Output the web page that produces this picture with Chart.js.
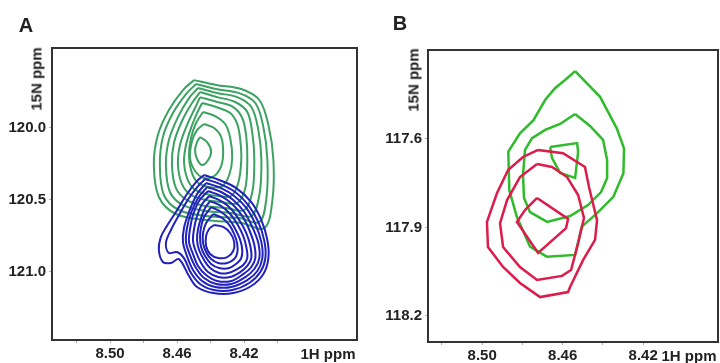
<!DOCTYPE html>
<html>
<head>
<meta charset="utf-8">
<script src="https://cdn.jsdelivr.net/npm/chart.js@4.4.0/dist/chart.umd.min.js"></script>
<style>
  body { margin: 0; background: #fff; }
  #wrap { position: relative; width: 720px; height: 363px; overflow: hidden;
          font-family: "Liberation Sans", Arial, sans-serif; font-weight: bold; color: #222; }
  .panel { position: absolute; top: 0; width: 360px; height: 363px; }
  .lbl { position: absolute; white-space: nowrap; transform: translate(-50%, -50%); line-height: 1; }
  .letter { font-size: 20px; }
  .unit { font-size: 15px; }
  .rot { transform: translate(-50%, -50%) rotate(-90deg); }
</style>
</head>
<body>
<div id="wrap">
  <div class="panel" style="left:0"><canvas id="chartA" width="360" height="363"></canvas></div>
  <div class="panel" style="left:360px"><canvas id="chartB" width="360" height="363"></canvas></div>
  <div class="lbl letter" style="left:26px;top:25px">A</div>
  <div class="lbl letter" style="left:400px;top:23px">B</div>
  <div class="lbl unit rot" style="left:36px;top:79px">15N ppm</div>
  <div class="lbl unit rot" style="left:413px;top:80px">15N ppm</div>
  <div class="lbl unit" style="left:328px;top:353px">1H ppm</div>
  <div class="lbl unit" style="left:689px;top:355px">1H ppm</div>
</div>
<script>
// tick positions (ppm)
const xMajorA = [8.50, 8.46, 8.42];
const xMinorA = [8.52, 8.48, 8.44, 8.40];
const yMajorA = [120.0, 120.5, 121.0];
const xMajorB = [8.50, 8.46, 8.42];
const xMinorB = [8.52, 8.48, 8.44];
const yMajorB = [117.6, 117.9, 118.2];

// panel A, green contours, outer -> inner  [1H, 15N]
const greenA = [
  [[8.4499,119.669],[8.4367,119.703],[8.4217,119.731],[8.4109,119.807],[8.4055,119.981],[8.4025,120.224],[8.4031,120.502],[8.4079,120.696],[8.4217,120.662],[8.4427,120.641],[8.4607,120.599],[8.4709,120.481],[8.4739,120.259],[8.4715,120.051],[8.4649,119.877],[8.4565,119.738]],
  [[8.4487,119.696],[8.4367,119.731],[8.4229,119.759],[8.4133,119.828],[8.4085,119.995],[8.4061,120.224],[8.4067,120.488],[8.4109,120.655],[8.4229,120.627],[8.4427,120.613],[8.4589,120.571],[8.4679,120.467],[8.4703,120.259],[8.4685,120.064],[8.4625,119.898],[8.4547,119.766]],
  [[8.4475,119.724],[8.4361,119.759],[8.4241,119.787],[8.4157,119.856],[8.4115,120.016],[8.4097,120.224],[8.4109,120.467],[8.4157,120.613],[8.4277,120.592],[8.4427,120.578],[8.4565,120.537],[8.4643,120.446],[8.4667,120.259],[8.4649,120.085],[8.4595,119.926],[8.4529,119.794]],
  [[8.4463,119.752],[8.4361,119.787],[8.4253,119.821],[8.4181,119.891],[8.4151,120.037],[8.4139,120.224],[8.4151,120.446],[8.4199,120.571],[8.4307,120.557],[8.4427,120.544],[8.4541,120.502],[8.4607,120.419],[8.4631,120.259],[8.4619,120.106],[8.4571,119.953],[8.4511,119.828]],
  [[8.4463,119.787],[8.4361,119.821],[8.4265,119.856],[8.4211,119.932],[8.4187,120.064],[8.4181,120.224],[8.4193,120.419],[8.4241,120.523],[8.4337,120.516],[8.4427,120.502],[8.4517,120.467],[8.4571,120.391],[8.4595,120.259],[8.4583,120.120],[8.4541,119.981],[8.4493,119.863]],
  [[8.4451,119.828],[8.4367,119.856],[8.4283,119.898],[8.4241,119.974],[8.4223,120.085],[8.4217,120.224],[8.4235,120.384],[8.4277,120.474],[8.4355,120.474],[8.4427,120.460],[8.4499,120.426],[8.4541,120.349],[8.4559,120.238],[8.4547,120.120],[8.4517,120.002],[8.4481,119.898]],
  [[8.4445,119.891],[8.4373,119.919],[8.4313,119.974],[8.4283,120.071],[8.4271,120.210],[8.4289,120.328],[8.4331,120.405],[8.4409,120.412],[8.4481,120.377],[8.4517,120.294],[8.4529,120.189],[8.4517,120.071],[8.4487,119.967]],
  [[8.4439,119.974],[8.4379,120.002],[8.4337,120.064],[8.4325,120.168],[8.4337,120.266],[8.4379,120.335],[8.4439,120.349],[8.4493,120.300],[8.4523,120.210],[8.4511,120.092],[8.4481,120.016]],
  [[8.4463,120.064],[8.4421,120.099],[8.4397,120.162],[8.4415,120.224],[8.4451,120.259],[8.4481,120.217],[8.4493,120.155],[8.4481,120.099]]
];

// panel A, blue contours, outer -> inner
const blueA = [
  [[8.4439,120.328],[8.4349,120.363],[8.4247,120.419],[8.4157,120.516],[8.4097,120.641],[8.4061,120.780],[8.4055,120.905],[8.4085,121.016],[8.4157,121.099],[8.4265,121.148],[8.4385,121.148],[8.4481,121.106],[8.4529,121.030],[8.4589,120.912],[8.4637,120.939],[8.4685,120.932],[8.4709,120.849],[8.4697,120.759],[8.4661,120.682],[8.4607,120.585],[8.4541,120.460],[8.4487,120.377]],
  [[8.4433,120.356],[8.4343,120.391],[8.4253,120.446],[8.4175,120.537],[8.4115,120.655],[8.4079,120.787],[8.4073,120.905],[8.4103,121.002],[8.4169,121.078],[8.4271,121.127],[8.4379,121.127],[8.4463,121.085],[8.4517,121.009],[8.4559,120.905],[8.4601,120.863],[8.4649,120.870],[8.4667,120.801],[8.4637,120.710],[8.4589,120.606],[8.4529,120.488],[8.4475,120.405]],
  [[8.4427,120.384],[8.4337,120.419],[8.4259,120.474],[8.4187,120.557],[8.4133,120.669],[8.4097,120.794],[8.4091,120.905],[8.4121,120.995],[8.4181,121.058],[8.4277,121.106],[8.4373,121.106],[8.4451,121.064],[8.4505,120.988],[8.4541,120.891],[8.4565,120.794],[8.4559,120.696],[8.4529,120.585],[8.4481,120.460]],
  [[8.4421,120.412],[8.4337,120.446],[8.4265,120.502],[8.4199,120.585],[8.4151,120.689],[8.4115,120.801],[8.4109,120.905],[8.4139,120.981],[8.4193,121.037],[8.4277,121.085],[8.4367,121.085],[8.4439,121.044],[8.4487,120.974],[8.4523,120.884],[8.4547,120.794],[8.4541,120.696],[8.4517,120.592],[8.4475,120.488]],
  [[8.4415,120.439],[8.4337,120.474],[8.4271,120.530],[8.4211,120.613],[8.4169,120.710],[8.4139,120.814],[8.4133,120.905],[8.4157,120.967],[8.4205,121.016],[8.4277,121.064],[8.4361,121.064],[8.4427,121.023],[8.4475,120.960],[8.4505,120.877],[8.4529,120.794],[8.4523,120.703],[8.4505,120.606],[8.4469,120.509]],
  [[8.4409,120.474],[8.4337,120.509],[8.4277,120.564],[8.4229,120.641],[8.4187,120.731],[8.4163,120.821],[8.4157,120.905],[8.4181,120.960],[8.4223,121.002],[8.4283,121.037],[8.4355,121.037],[8.4415,121.002],[8.4457,120.939],[8.4487,120.863],[8.4505,120.787],[8.4499,120.703],[8.4481,120.613],[8.4451,120.530]],
  [[8.4403,120.509],[8.4337,120.544],[8.4283,120.599],[8.4241,120.669],[8.4205,120.752],[8.4187,120.828],[8.4181,120.905],[8.4205,120.953],[8.4241,120.981],[8.4295,121.009],[8.4349,121.009],[8.4403,120.974],[8.4439,120.919],[8.4469,120.849],[8.4481,120.780],[8.4475,120.703],[8.4457,120.627],[8.4433,120.557]],
  [[8.4397,120.551],[8.4337,120.585],[8.4289,120.634],[8.4253,120.703],[8.4223,120.780],[8.4211,120.849],[8.4217,120.905],[8.4241,120.939],[8.4289,120.974],[8.4349,120.974],[8.4397,120.946],[8.4433,120.891],[8.4457,120.828],[8.4463,120.759],[8.4457,120.689],[8.4439,120.620]],
  [[8.4385,120.599],[8.4331,120.627],[8.4289,120.675],[8.4259,120.738],[8.4241,120.807],[8.4241,120.870],[8.4259,120.912],[8.4301,120.939],[8.4355,120.939],[8.4397,120.912],[8.4427,120.863],[8.4445,120.801],[8.4445,120.731],[8.4427,120.662]],
  [[8.4379,120.675],[8.4325,120.689],[8.4283,120.731],[8.4259,120.794],[8.4265,120.856],[8.4301,120.898],[8.4355,120.905],[8.4403,120.877],[8.4427,120.821],[8.4427,120.752],[8.4409,120.703]]
];

// panel B, green contours, outer -> inner
const greenB = [
  [[8.4538,117.370],[8.4414,117.457],[8.4331,117.564],[8.4295,117.632],[8.4298,117.716],[8.4348,117.796],[8.4430,117.852],[8.4505,117.897],[8.4538,117.993],[8.4679,117.999],[8.4762,117.965],[8.4828,117.863],[8.4865,117.773],[8.4870,117.643],[8.4812,117.581],[8.4745,117.536],[8.4687,117.468],[8.4638,117.428],[8.4588,117.400]],
  [[8.4538,117.515],[8.4464,117.556],[8.4399,117.603],[8.4379,117.671],[8.4379,117.732],[8.4409,117.780],[8.4474,117.824],[8.4563,117.861],[8.4677,117.881],[8.4762,117.848],[8.4792,117.800],[8.4797,117.722],[8.4787,117.637],[8.4752,117.597],[8.4687,117.569],[8.4613,117.549]],
  [[8.4662,117.627],[8.4528,117.614],[8.4523,117.644],[8.4538,117.732],[8.4613,117.715],[8.4653,117.664]]
];

// panel B, red contours, outer -> inner
const redB = [
  [[8.4722,117.637],[8.4598,117.648],[8.4489,117.695],[8.4469,117.763],[8.4429,117.875],[8.4439,117.942],[8.4498,118.010],[8.4563,118.102],[8.4573,118.119],[8.4712,118.136],[8.4812,118.088],[8.4896,118.034],[8.4971,117.966],[8.4976,117.881],[8.4926,117.783],[8.4871,117.705],[8.4797,117.661]],
  [[8.4727,117.685],[8.4653,117.695],[8.4578,117.729],[8.4523,117.790],[8.4494,117.868],[8.4523,117.953],[8.4558,118.044],[8.4603,118.064],[8.4727,118.078],[8.4812,118.034],[8.4896,117.966],[8.4911,117.885],[8.4876,117.807],[8.4812,117.729]],
  [[8.4727,117.800],[8.4573,117.871],[8.4583,117.902],[8.4722,117.986],[8.4827,117.881],[8.4787,117.841]]
];

const tickFont = { family: '"Liberation Sans", Arial, sans-serif', size: 15, weight: 'bold' };

// closed outline for each contour
function contours(list, color, width, tension, order) {
  return list.map(c => ({
    data: c.concat([c[0]]).map(p => ({ x: p[0], y: p[1] })),
    showLine: true,
    borderColor: color,
    borderWidth: width,
    pointRadius: 0,
    fill: false,
    tension: tension,
    order: order
  }));
}

function xAxis(min, max, major, minor, h) {
  return {
    type: 'linear', reverse: true, min: min, max: max,
    afterBuildTicks: s => { s.ticks = major.concat(minor).map(v => ({ value: v })); },
    afterFit: s => { s.height = h; },
    grid: { drawOnChartArea: false, drawTicks: true, tickLength: 3, color: '#aaa' },
    border: { display: false },
    ticks: { autoSkip: false, maxRotation: 0, padding: 2, color: '#222', font: tickFont,
      callback: v => major.includes(v) ? v.toFixed(2) : '' }
  };
}

function yAxis(min, max, major, w) {
  return {
    type: 'linear', reverse: true, min: min, max: max,
    afterBuildTicks: s => { s.ticks = major.map(v => ({ value: v })); },
    afterFit: s => { s.width = w; },
    grid: { drawOnChartArea: false, drawTicks: true, tickLength: 3, color: '#aaa' },
    border: { display: false },
    ticks: { autoSkip: false, padding: 3, color: '#222', font: tickFont,
      callback: v => v.toFixed(1) }
  };
}

const frame = {
  id: 'frame',
  afterDraw(chart) {
    const { ctx, chartArea: a } = chart;
    ctx.save();
    ctx.strokeStyle = '#333';
    ctx.lineWidth = 2;
    ctx.strokeRect(a.left, a.top, a.right - a.left, a.bottom - a.top);
    ctx.restore();
  }
};

const common = {
  responsive: false,
  animation: false,
  plugins: { legend: { display: false }, tooltip: { enabled: false } }
};

new Chart(document.getElementById('chartA'), {
  type: 'scatter',
  data: { datasets: contours(blueA, '#2121bd', 2, 0.35, 1).concat(contours(greenA, '#3ca262', 2, 0.35, 2)) },
  options: Object.assign({}, common, {
    layout: { padding: { top: 48, right: 3, left: 0, bottom: 0 } },
    scales: {
      x: xAxis(8.3526, 8.5347, xMajorA, xMinorA, 23),
      y: yAxis(119.446, 121.474, yMajorA, 52)
    }
  }),
  plugins: [frame]
});

new Chart(document.getElementById('chartB'), {
  type: 'scatter',
  data: { datasets: contours(redB, '#dc1c4b', 2.5, 0, 1).concat(contours(greenB, '#2fbb2c', 2.5, 0, 2)) },
  options: Object.assign({}, common, {
    layout: { padding: { top: 50, right: 2, left: 0, bottom: 0 } },
    scales: {
      x: xAxis(8.3828, 8.5269, xMajorB, xMinorB, 21),
      y: yAxis(117.2983, 118.2882, yMajorB, 68)
    }
  }),
  plugins: [frame]
});
</script>
</body>
</html>
